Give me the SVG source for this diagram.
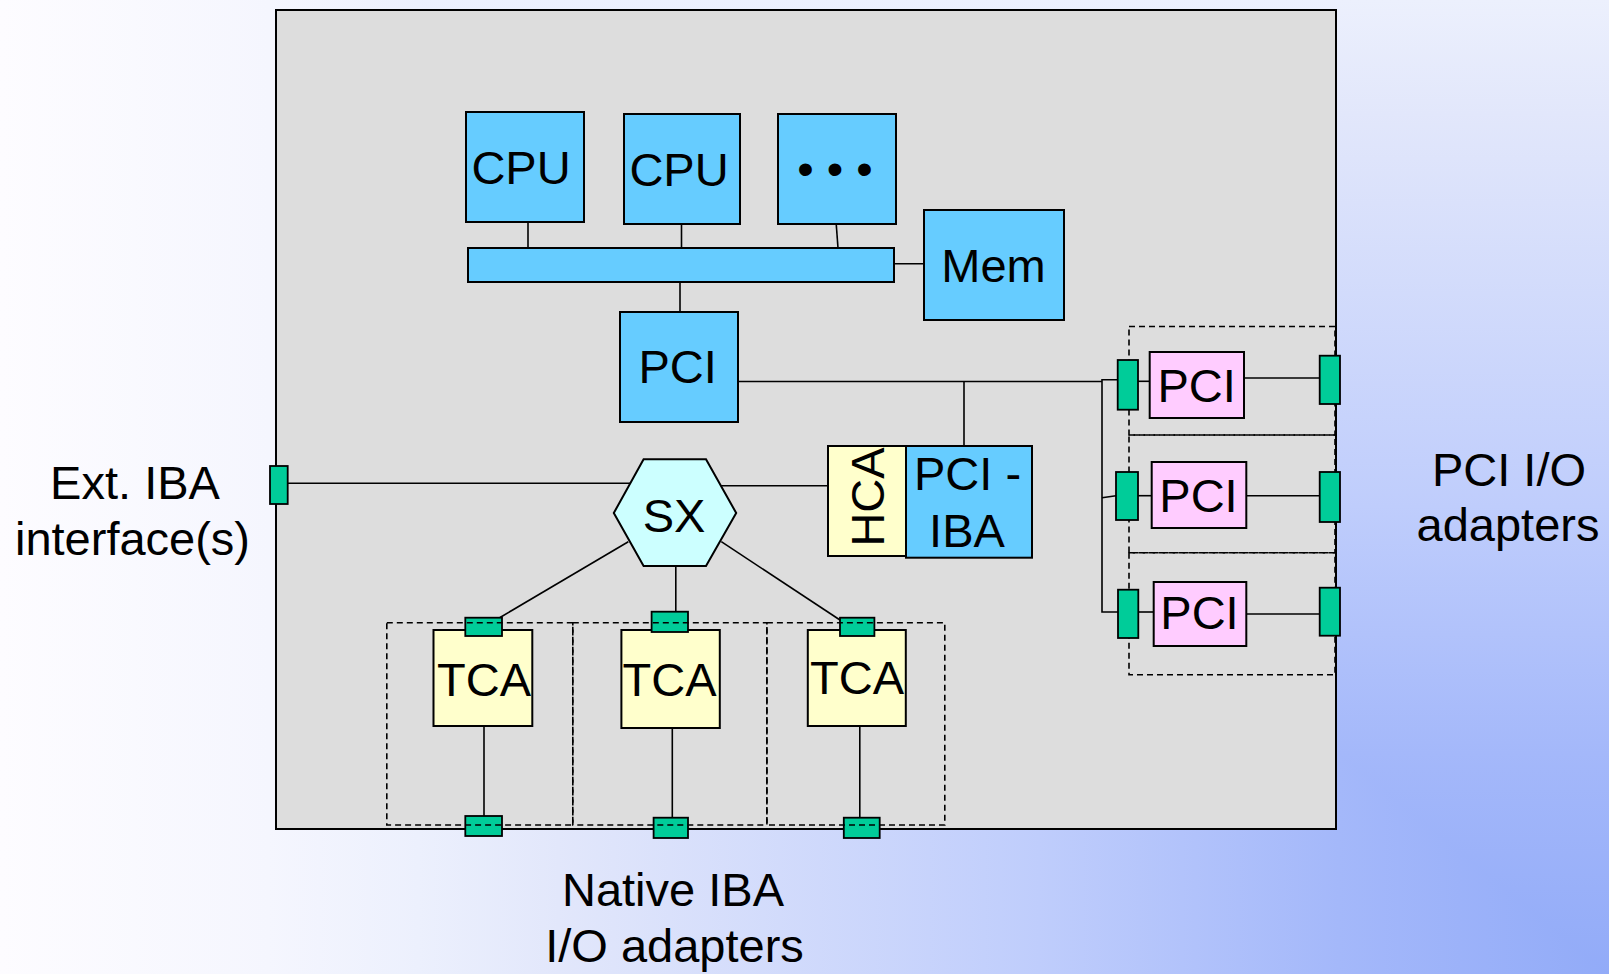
<svg xmlns="http://www.w3.org/2000/svg" width="1609" height="974" viewBox="0 0 1609 974">
<defs>
<linearGradient id="bgH" gradientUnits="userSpaceOnUse" x1="1609" y1="0" x2="0" y2="0">
<stop offset="0" stop-color="#92abf8"/>
<stop offset="0.168" stop-color="#a4b8fa"/>
<stop offset="0.354" stop-color="#bfcdfc"/>
<stop offset="0.653" stop-color="#e2e7fb"/>
<stop offset="0.74" stop-color="#ecf0fd"/>
<stop offset="0.833" stop-color="#f5f6fe"/>
<stop offset="1" stop-color="#fdfcff"/>
</linearGradient>
<linearGradient id="bgV" gradientUnits="userSpaceOnUse" x1="0" y1="974" x2="0" y2="0">
<stop offset="0" stop-color="#92abf8"/>
<stop offset="0.227" stop-color="#a4b8fa"/>
<stop offset="0.48" stop-color="#bfcdfc"/>
<stop offset="0.884" stop-color="#e2e7fb"/>
<stop offset="1" stop-color="#ecf0fd"/>
</linearGradient>
<style>
.box{stroke:#000;stroke-width:2}
.blue{fill:#66ccff}
.pink{fill:#ffccff}
.yel{fill:#ffffcc}
.grn{fill:#00cc99;stroke:#000;stroke-width:1.8}
.hex{fill:#ccffff;stroke:#000;stroke-width:2}
.ln{stroke:#000;stroke-width:1.6;fill:none}
.dash{stroke:#000;stroke-width:1.6;fill:none;stroke-dasharray:6 4}
text{font-family:"Liberation Sans",Arial,sans-serif;font-size:47px;fill:#000;text-anchor:middle}
</style>
</defs>
<g id="background">
<rect x="0" y="0" width="1609" height="974" fill="url(#bgH)"/>
<polygon points="1609,974 421,0 1609,0" fill="url(#bgV)"/>
</g>
<g id="host-frame">
<rect x="276" y="10" width="1060" height="819" fill="#dddddd" stroke="#000" stroke-width="2"/>
</g>
<g id="pci-slots">
<rect class="dash" x="1129" y="326.5" width="206" height="108.5"/>
<rect class="dash" x="1129" y="435" width="206" height="117.7"/>
<rect class="dash" x="1129" y="552.7" width="206" height="122"/>
</g>
<g id="connectors">
<line class="ln" x1="528" y1="219" x2="528" y2="248"/>
<line class="ln" x1="681.5" y1="221" x2="681.5" y2="248"/>
<line class="ln" x1="836" y1="221" x2="838" y2="248"/>
<line class="ln" x1="890" y1="263.7" x2="924" y2="263.7"/>
<line class="ln" x1="680" y1="277" x2="680" y2="314"/>
<polyline class="ln" points="733,381.5 1102,381.5"/>
<line class="ln" x1="964" y1="381.5" x2="964" y2="446"/>
<polyline class="ln" points="1118,379.7 1102,379.7 1102,612 1118,612"/>
<line class="ln" x1="1102" y1="497.7" x2="1116" y2="495.7"/>
<line class="ln" x1="1133" y1="381.3" x2="1150" y2="381.3"/>
<line class="ln" x1="1133" y1="495.7" x2="1152" y2="495.7"/>
<line class="ln" x1="1135" y1="612" x2="1154" y2="612"/>
<line class="ln" x1="1241" y1="378" x2="1320" y2="378"/>
<line class="ln" x1="1241" y1="495.7" x2="1320" y2="495.7"/>
<line class="ln" x1="1246" y1="614" x2="1320" y2="614"/>
<line class="ln" x1="287" y1="483.3" x2="631" y2="483.3"/>
<line class="ln" x1="720" y1="485.7" x2="828" y2="485.7"/>
<line class="ln" x1="628.3" y1="541.7" x2="500" y2="617.5"/>
<line class="ln" x1="675.8" y1="566" x2="675.8" y2="612"/>
<line class="ln" x1="721.3" y1="541.7" x2="840" y2="620"/>
<line class="ln" x1="484" y1="726" x2="484" y2="816"/>
<line class="ln" x1="672.3" y1="728" x2="672.3" y2="818"/>
<line class="ln" x1="859.8" y1="726" x2="859.8" y2="818"/>
</g>
<g id="cpu1"><rect class="box blue" x="466" y="112" width="118" height="110"/><text x="521" y="184">CPU</text></g>
<g id="cpu2"><rect class="box blue" x="624" y="114" width="116" height="110"/><text x="679" y="186">CPU</text></g>
<g id="cpu-more"><rect class="box blue" x="778" y="114" width="118" height="110"/><text x="835" y="185">• • •</text></g>
<g id="bus"><rect class="box blue" x="468" y="248" width="426" height="34"/></g>
<g id="mem"><rect class="box blue" x="924" y="210" width="140" height="110"/><text x="993.5" y="281.7">Mem</text></g>
<g id="pci-bridge"><rect class="box blue" x="620" y="312" width="118" height="110"/><text x="677.6" y="383.3">PCI</text></g>
<g id="hca"><rect class="box yel" x="828" y="446" width="78" height="110"/><text transform="translate(884,497) rotate(-90)" x="0" y="0">HCA</text></g>
<g id="pci-iba"><rect class="box blue" x="906" y="446" width="126" height="111.7"/><text x="967.5" y="490">PCI -</text><text x="967" y="547.3">IBA</text></g>
<g id="sx"><polygon class="hex" points="613.8,513 643.6,459.3 706,459.3 736.2,513 706,566 643.6,566"/><text x="674" y="531.7">SX</text></g>
<g id="ext-port"><rect class="grn" x="270" y="466" width="17.7" height="38"/></g>
<g id="pci-adapter-1">
<rect class="grn" x="1117.7" y="360" width="20.3" height="49.7"/>
<rect class="box pink" x="1149.7" y="352" width="94.3" height="66"/>
<text x="1196.7" y="401.7">PCI</text>
<rect class="grn" x="1319.7" y="355.7" width="20.3" height="48.3"/>
</g>
<g id="pci-adapter-2">
<rect class="grn" x="1116" y="472" width="22" height="48"/>
<rect class="box pink" x="1151.7" y="462" width="94.6" height="66"/>
<text x="1198.5" y="511.7">PCI</text>
<rect class="grn" x="1319.7" y="472" width="20.3" height="50"/>
</g>
<g id="pci-adapter-3">
<rect class="grn" x="1118" y="589.7" width="20.3" height="48.3"/>
<rect class="box pink" x="1153.7" y="582" width="92.6" height="64"/>
<text x="1199.5" y="629.3">PCI</text>
<rect class="grn" x="1319.7" y="587.7" width="20.3" height="48"/>
</g>
<g id="tca1">
<rect class="box yel" x="433.5" y="630" width="98.8" height="96"/>
<text x="484" y="696">TCA</text>
<rect class="grn" x="465.3" y="617.7" width="36.7" height="18.3"/>
<rect class="grn" x="465.3" y="816" width="36.7" height="20"/>
</g>
<g id="tca2">
<rect class="box yel" x="621.4" y="630" width="98.4" height="98"/>
<text x="669.5" y="696">TCA</text>
<rect class="grn" x="651.6" y="611.7" width="36.4" height="20.3"/>
<rect class="grn" x="653.6" y="817.7" width="34.4" height="20.3"/>
</g>
<g id="tca3">
<rect class="box yel" x="807.8" y="630" width="98" height="96"/>
<text x="857" y="694">TCA</text>
<rect class="grn" x="840" y="617.7" width="34.4" height="18.3"/>
<rect class="grn" x="843.8" y="817.7" width="35.9" height="20.3"/>
</g>
<g id="native-slots">
<rect class="dash" x="386.8" y="622.7" width="186" height="202.3"/>
<rect class="dash" x="572.8" y="622.7" width="194.1" height="202.3"/>
<rect class="dash" x="766.9" y="622.7" width="177.9" height="202.3"/>
</g>
<g id="labels">
<text x="135" y="499">Ext. IBA</text>
<text x="132.5" y="555">interface(s)</text>
<text x="1509" y="486">PCI I/O</text>
<text x="1508" y="541">adapters</text>
<text x="673" y="906">Native IBA</text>
<text x="674.5" y="961.5">I/O adapters</text>
</g>
</svg>
